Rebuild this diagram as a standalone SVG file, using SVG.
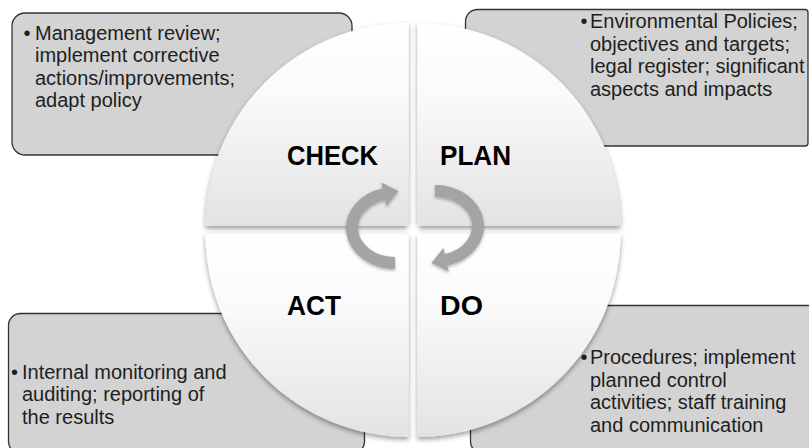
<svg xmlns="http://www.w3.org/2000/svg" width="809" height="448" viewBox="0 0 809 448">
<style>
.box{fill:#d3d3d3;stroke:#333;stroke-width:1.3}
.body{font-family:"Liberation Sans",Arial,sans-serif;font-size:20px;fill:#1e1e1e}
.bul{font-family:"Liberation Sans",Arial,sans-serif;font-size:20px;fill:#1e1e1e;text-anchor:middle}
.quad{fill:url(#qg);filter:url(#sh)}
.lbl{font-family:"Liberation Sans",Arial,sans-serif;font-size:28px;font-weight:bold;fill:#000}
.arr{fill:none;stroke:#a4a4a4;stroke-width:12}
.head{fill:#a4a4a4}
</style>
<defs>
<linearGradient id="qg" x1="0" y1="0" x2="0" y2="1">
<stop offset="0" stop-color="#ffffff"/>
<stop offset="0.35" stop-color="#fafafa"/>
<stop offset="1" stop-color="#e3e3e3"/>
</linearGradient>
<filter id="sh" x="-10%" y="-10%" width="125%" height="125%">
<feDropShadow dx="0" dy="2.5" stdDeviation="2.5" flood-color="#000" flood-opacity="0.4"/>
</filter>
<filter id="ash" x="-20%" y="-20%" width="140%" height="140%">
<feDropShadow dx="0" dy="1.5" stdDeviation="1.5" flood-color="#000" flood-opacity="0.3"/>
</filter>
<radialGradient id="glow">
<stop offset="0" stop-color="#ffffff" stop-opacity="1"/>
<stop offset="1" stop-color="#ffffff" stop-opacity="0"/>
</radialGradient>
</defs>
<rect width="809" height="448" fill="#ffffff"/>

<g id="node-check">
<rect class="box" x="12" y="13" width="340" height="142" rx="13"/>
<text class="bul" x="27" y="39.5">•</text>
<text class="body" x="35" y="39.5">Management review;</text>
<text class="body" x="35" y="62">implement corrective</text>
<text class="body" x="35" y="84.5">actions/improvements;</text>
<text class="body" x="35" y="107">adapt policy</text>
<path class="quad" d="M408.5 226 L205.5 226 A203 203 0 0 1 408.5 23 Z"/>
<text class="lbl" x="287" y="164.5" textLength="91" lengthAdjust="spacingAndGlyphs">CHECK</text>
</g>

<g id="node-plan">
<path class="box" d="M477.5 9.5 H805 A3 3 0 0 1 808 12.5 V143 A3 3 0 0 1 805 146 H477.5 A12 12 0 0 1 465.5 134 V21.5 A12 12 0 0 1 477.5 9.5 Z"/>
<text class="bul" x="584" y="28">•</text>
<text class="body" x="590" y="28">Environmental Policies;</text>
<text class="body" x="590" y="50.5">objectives and targets;</text>
<text class="body" x="590" y="73">legal register; significant</text>
<text class="body" x="590" y="95.5">aspects and impacts</text>
<path class="quad" d="M417.5 226 L417.5 23 A203 203 0 0 1 620.5 226 Z"/>
<text class="lbl" x="440" y="164.5" textLength="71" lengthAdjust="spacingAndGlyphs">PLAN</text>
</g>

<g id="node-act">
<rect class="box" x="8.5" y="313.5" width="356" height="140" rx="12"/>
<text class="bul" x="14.5" y="378.5">•</text>
<text class="body" x="22" y="378.5">Internal monitoring and</text>
<text class="body" x="22" y="401">auditing; reporting of</text>
<text class="body" x="22" y="423.5">the results</text>
<path class="quad" d="M408.5 234 L408.5 437 A203 203 0 0 1 205.5 234 Z"/>
<text class="lbl" x="287" y="315" textLength="54" lengthAdjust="spacingAndGlyphs">ACT</text>
</g>

<g id="node-do">
<rect class="box" x="470.5" y="305.5" width="350" height="148" rx="12"/>
<text class="bul" x="584" y="364">•</text>
<text class="body" x="590" y="364">Procedures; implement</text>
<text class="body" x="590" y="386.5">planned control</text>
<text class="body" x="590" y="409">activities; staff training</text>
<text class="body" x="590" y="431.5">and communication</text>
<path class="quad" d="M417.5 234 L620.5 234 A203 203 0 0 1 417.5 437 Z"/>
<text class="lbl" x="440" y="315" textLength="43" lengthAdjust="spacingAndGlyphs">DO</text>
</g>

<circle cx="413" cy="230" r="9" fill="url(#glow)"/>

<g id="connectors" filter="url(#ash)">
<g id="arrow-act-check">
<path class="arr" d="M395 263 A43 35 0 0 1 383.9 194.2"/>
<polygon class="head" points="386.5,205.9 381.3,182.5 398.6,191"/>
</g>
<g id="arrow-plan-do" transform="rotate(180 415 227)">
<path class="arr" d="M395 263 A43 35 0 0 1 383.9 194.2"/>
<polygon class="head" points="386.5,205.9 381.3,182.5 398.6,191"/>
</g>
</g>
</svg>
